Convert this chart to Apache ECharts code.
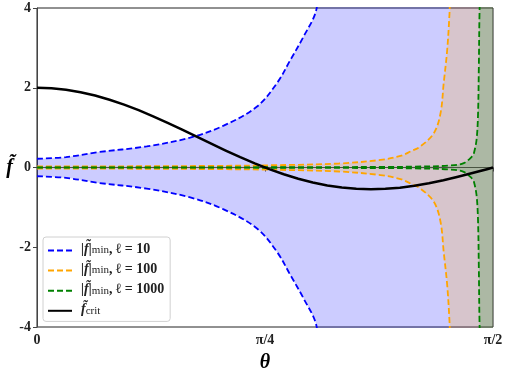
<!DOCTYPE html>
<html>
<head>
<meta charset="utf-8">
<script src="https://cdn.jsdelivr.net/npm/echarts@6/dist/echarts.min.js"></script>
<style>
  html, body { margin: 0; padding: 0; background: #fff; }
  #chart { width: 509px; height: 374px; }
</style>
</head>
<body>
<div id="chart"></div>
<script>
// values (theta in rad); 5 = off the top of the axis
const thetaBlue = [0, 0.1, 0.206, 0.378, 0.528, 0.643, 0.758, 0.827, 0.873, 0.918, 0.962, 0.975, 1.5708];
const fBlue = [0.22, 0.26, 0.38, 0.53, 0.75, 1.05, 1.53, 2.12, 2.70, 3.28, 3.95, 5, 5];

const thetaOrange = [0, 0.3, 0.6, 0.8, 1.04, 1.183, 1.252, 1.286, 1.321, 1.367, 1.390, 1.401, 1.413, 1.421, 1.428, 1.5708];
const fOrange = [0.025, 0.03, 0.04, 0.055, 0.1, 0.19, 0.29, 0.40, 0.53, 0.86, 1.36, 2.12, 2.95, 3.87, 5, 5];

const thetaGreen = [0, 0.8, 1.2, 1.3, 1.4245, 1.470, 1.499, 1.505, 1.514, 1.519, 1.522, 1.5246, 1.53, 1.5708];
const fGreen = [0.003, 0.006, 0.015, 0.022, 0.05, 0.11, 0.28, 0.36, 0.69, 1.28, 2.53, 3.95, 5, 5];

const thetaCrit = [0, 0.05, 0.1, 0.15, 0.2, 0.25, 0.3, 0.35, 0.4, 0.45, 0.5, 0.55, 0.6, 0.65, 0.7, 0.75, 0.8,
  0.85, 0.9, 0.95, 1.0, 1.05, 1.1, 1.15, 1.2, 1.25, 1.3, 1.35, 1.4, 1.45, 1.5, 1.55, 1.5708];
const fCrit = [2.0, 1.988, 1.951, 1.889, 1.805, 1.700, 1.577, 1.437, 1.284, 1.119, 0.948, 0.773, 0.598, 0.426, 0.260, 0.104, -0.041,
  -0.170, -0.282, -0.376, -0.449, -0.502, -0.535, -0.546, -0.534, -0.505, -0.458, -0.396, -0.320, -0.234, -0.140, -0.042, 0];

const xTickLabels = ['0', 'π/4', 'π/2'];
const yTicks = [-4, -2, 0, 2, 4];

const ells = [
  { key: 'b10', ell: '10', color: '#0000ff', theta: thetaBlue, f: fBlue },
  { key: 'b100', ell: '100', color: '#ffa500', theta: thetaOrange, f: fOrange },
  { key: 'b1000', ell: '1000', color: '#008000', theta: thetaGreen, f: fGreen },
];

const serif = 'Liberation Serif';

let series = [];
ells.forEach((item) => {
  [1, -1].forEach((sign) => {
    series.push({
      name: item.key,
      type: 'line',
      data: item.theta.map((t, i) => [t, sign * item.f[i]]),
      showSymbol: false,
      symbol: 'none',
      smooth: 0.35,
      clip: true,
      lineStyle: { color: item.color, width: 1.8, type: [6, 3] },
      itemStyle: { color: item.color },
      areaStyle: { color: item.color, opacity: 0.2, origin: 0 },
    });
  });
});

series.push({
  name: 'crit',
  type: 'line',
  data: thetaCrit.map((t, i) => [t, fCrit[i]]),
  showSymbol: false,
  symbol: 'none',
  smooth: false,
  lineStyle: { color: '#000', width: 2.5, join: 'round' },
  itemStyle: { color: '#000' },
  z: 5,
});

let chartDom = document.getElementById('chart');
let myChart = echarts.init(chartDom, null, { renderer: 'canvas' });
let option;

option = {
  animation: false,
  grid: {
    left: 37,
    right: 16,
    top: 8,
    bottom: 47,
    outerBoundsMode: 'none',
    containLabel: false,
    show: true,
    borderColor: '#222',
    borderWidth: 1,
    backgroundColor: 'transparent',
  },
  xAxis: {
    type: 'value',
    min: 0,
    max: Math.PI / 2,
    interval: Math.PI / 4,
    name: 'θ',
    nameLocation: 'middle',
    nameGap: 26,
    nameTextStyle: { fontFamily: serif, fontStyle: 'italic', fontWeight: 'bold', fontSize: 20, color: '#000' },
    axisLine: { lineStyle: { color: '#444', width: 1 } },
    axisTick: { show: true, inside: false, length: 4, lineStyle: { color: '#444' } },
    axisLabel: {
      fontFamily: serif,
      fontWeight: 'bold',
      fontSize: 14,
      color: '#222',
      margin: 6,
      formatter: (v) => xTickLabels[Math.round(v / (Math.PI / 4))],
    },
    splitLine: { show: false },
  },
  yAxis: {
    type: 'value',
    min: yTicks[0],
    max: yTicks[yTicks.length - 1],
    interval: 2,
    name: 'f̃',
    nameLocation: 'middle',
    nameRotate: 0,
    nameGap: 24,
    nameTextStyle: { fontFamily: serif, fontStyle: 'italic', fontWeight: 'bold', fontSize: 20, color: '#000', padding: [0, 0, 16, 0] },
    axisLine: { show: true, lineStyle: { color: '#444', width: 1 } },
    axisTick: { show: true, inside: false, length: 4, lineStyle: { color: '#444' } },
    axisLabel: { fontFamily: serif, fontWeight: 'bold', fontSize: 14, color: '#222', margin: 6 },
    splitLine: { show: false },
  },
  legend: {
    orient: 'vertical',
    left: 43,
    top: 237,
    data: ['b10', 'b100', 'b1000', 'crit'],
    itemWidth: 24,
    itemHeight: 14,
    itemGap: 6,
    padding: [5, 6, 5, 4],
    backgroundColor: 'rgba(255,255,255,0.85)',
    borderColor: '#d0d0d0',
    borderWidth: 1,
    borderRadius: 3,
    selectedMode: false,
    itemStyle: { opacity: 0 },
    formatter: (name) => {
      if (name === 'crit') return '{f|f̃}{s|crit}';
      const item = ells.find((e) => e.key === name);
      return '{f||f̃|}{s|min}{t|, ℓ = ' + item.ell + '}';
    },
    textStyle: {
      padding: [0, 0, 0, 4],
      rich: {
        f: { fontFamily: serif, fontStyle: 'italic', fontWeight: 'bold', fontSize: 14, color: '#222', padding: [0, 0, 3, 0] },
        s: { fontFamily: serif, fontSize: 11, color: '#222' },
        t: { fontFamily: serif, fontWeight: 'bold', fontSize: 14, color: '#222', padding: [0, 0, 3, 0] },
      },
    },
  },
  series: series,
};

option && myChart.setOption(option);
</script>
</body>
</html>
